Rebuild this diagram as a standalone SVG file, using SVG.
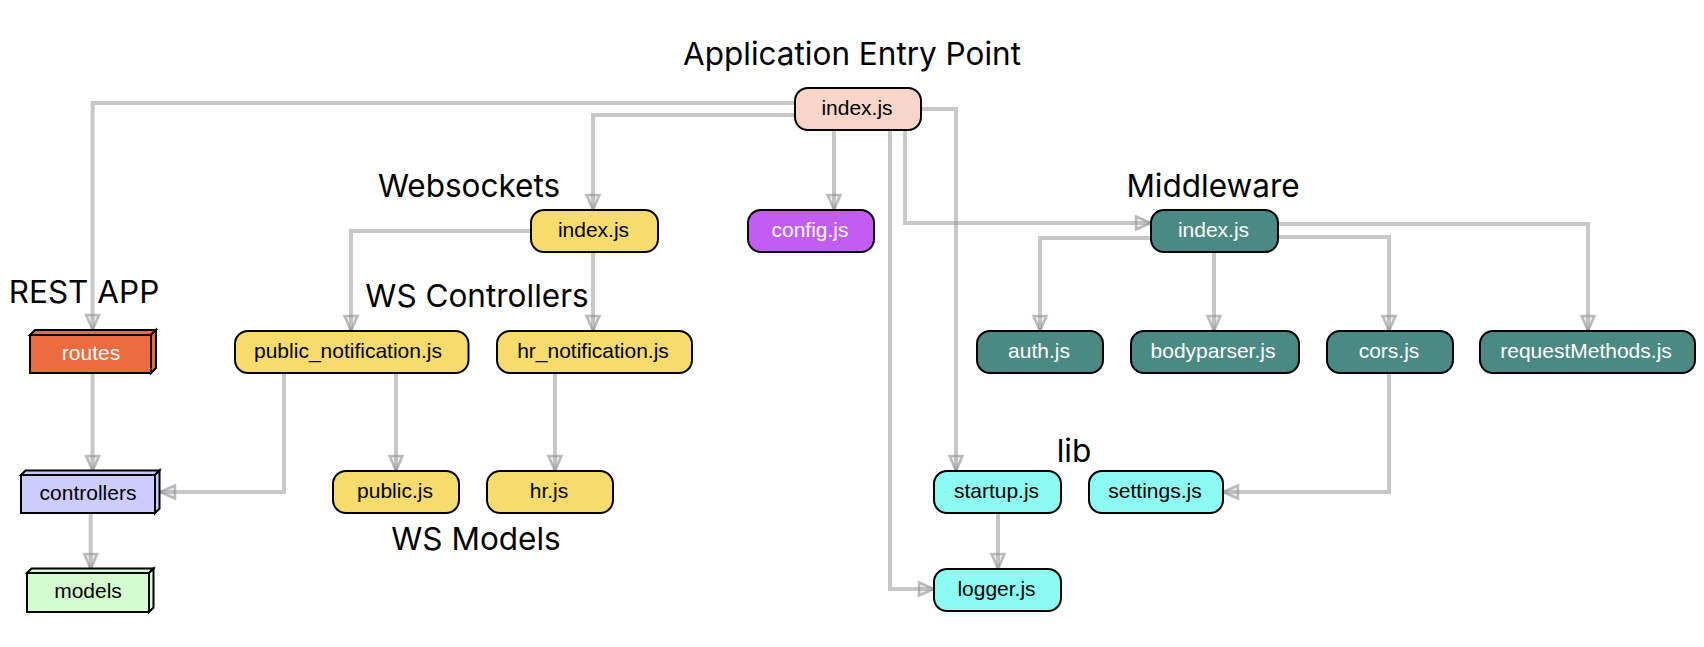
<svg xmlns="http://www.w3.org/2000/svg" width="1704" height="647" viewBox="0 0 1704 647">
<style>
.lbl{font-family:Inter,"Liberation Sans",sans-serif;font-size:31.5px;fill:#000;text-anchor:middle}
.nt{font-family:"Liberation Sans",Arial,sans-serif;font-size:21px;text-anchor:middle;fill:#000}
.wt{fill:#fff}
.n{stroke:#000;stroke-width:2}
.edge{fill:none;stroke:#919191;stroke-opacity:0.5;stroke-width:4;marker-end:url(#arr)}
.entry{fill:#F7D6C9}.ws{fill:#F6DC6C}.cfg{fill:#C25CF2}.mw{fill:#4B8A82}.lib{fill:#8CFCF3}
.routes{fill:#EE6B40}.ctrl{fill:#CCCCFF}.models{fill:#D4FCD0}
</style>
<defs>
<marker id="arr" markerUnits="userSpaceOnUse" markerWidth="20" markerHeight="20" viewBox="0 0 20 20" refX="18" refY="10" orient="auto">
<path d="M3,3.5 L18,10 L3,16.5 Z" fill="#919191" fill-opacity="0.15" stroke="#919191" stroke-opacity="0.6" stroke-width="2.5"/>
</marker>
</defs>
<rect width="1704" height="647" fill="#fff"/>
<g id="labels">
<text class="lbl" x="852" y="65">Application Entry Point</text>
<text class="lbl" x="469" y="197">Websockets</text>
<text class="lbl" x="1213" y="197">Middleware</text>
<text class="lbl" x="84" y="303">REST APP</text>
<text class="lbl" x="477" y="307">WS Controllers</text>
<text class="lbl" x="476" y="550">WS Models</text>
<text class="lbl" x="1074" y="462">lib</text>
</g>
<g id="connectors">
<path class="edge" d="M795,103 H92.6 V330"/>
<path class="edge" d="M795,115 H593 V210"/>
<path class="edge" d="M834,130 V210"/>
<path class="edge" d="M890,130 V589 H934"/>
<path class="edge" d="M905,130 V223 H1151"/>
<path class="edge" d="M921,109 H956 V471"/>
<path class="edge" d="M531,231 H351 V331"/>
<path class="edge" d="M593,252 V331"/>
<path class="edge" d="M284,373 V492 H160"/>
<path class="edge" d="M396,373 V471"/>
<path class="edge" d="M555,373 V471"/>
<path class="edge" d="M92.6,373 V471"/>
<path class="edge" d="M90.7,513 V569"/>
<path class="edge" d="M1151,238 H1040 V331"/>
<path class="edge" d="M1214,252 V331"/>
<path class="edge" d="M1278,237 H1389 V331"/>
<path class="edge" d="M1278,224 H1588 V331"/>
<path class="edge" d="M1389,373 V492 H1223"/>
<path class="edge" d="M998,513 V569"/>
</g>
<g id="n-main"><rect class="n entry" x="795" y="88" width="126" height="42" rx="13"/><text class="nt" x="857" y="115">index.js</text></g>
<g id="n-ws-index"><rect class="n ws" x="531" y="210" width="127" height="42" rx="13"/><text class="nt" x="593.5" y="237">index.js</text></g>
<g id="n-config"><rect class="n cfg" x="748" y="210" width="126" height="42" rx="13"/><text class="nt wt" x="810" y="237">config.js</text></g>
<g id="n-mw-index"><rect class="n mw" x="1151" y="210" width="127" height="42" rx="13"/><text class="nt wt" x="1213.5" y="237">index.js</text></g>
<g id="n-public-notification"><rect class="n ws" x="235" y="331" width="233.5" height="42" rx="13"/><text class="nt" x="348" y="358">public_notification.js</text></g>
<g id="n-hr-notification"><rect class="n ws" x="497" y="331" width="195" height="42" rx="13"/><text class="nt" x="593" y="358">hr_notification.js</text></g>
<g id="n-auth"><rect class="n mw" x="977" y="331" width="126" height="42" rx="13"/><text class="nt wt" x="1039" y="358">auth.js</text></g>
<g id="n-bodyparser"><rect class="n mw" x="1131" y="331" width="168" height="42" rx="13"/><text class="nt wt" x="1213" y="358">bodyparser.js</text></g>
<g id="n-cors"><rect class="n mw" x="1327" y="331" width="126" height="42" rx="13"/><text class="nt wt" x="1389" y="358">cors.js</text></g>
<g id="n-requestMethods"><rect class="n mw" x="1480" y="331" width="215" height="42" rx="13"/><text class="nt wt" x="1586" y="358">requestMethods.js</text></g>
<g id="n-public"><rect class="n ws" x="333" y="471" width="126" height="42" rx="13"/><text class="nt" x="395" y="498">public.js</text></g>
<g id="n-hr"><rect class="n ws" x="487" y="471" width="126" height="42" rx="13"/><text class="nt" x="549" y="498">hr.js</text></g>
<g id="n-startup"><rect class="n lib" x="934" y="471" width="127" height="42" rx="13"/><text class="nt" x="996.5" y="498">startup.js</text></g>
<g id="n-settings"><rect class="n lib" x="1089" y="471" width="134" height="42" rx="13"/><text class="nt" x="1155" y="498">settings.js</text></g>
<g id="n-logger"><rect class="n lib" x="934" y="569" width="127" height="42" rx="13"/><text class="nt" x="996.5" y="596">logger.js</text></g>
<g id="n-routes">
<path class="n routes" d="M30,335 L35,330 H156 L151,335 Z"/>
<path class="n routes" d="M151,335 L156,330 V368 L151,373 Z"/>
<rect class="n routes" x="30" y="335" width="121" height="38"/>
<text class="nt wt" x="91" y="360">routes</text>
</g>
<g id="n-controllers">
<path class="n ctrl" d="M21,475 L25.5,470.5 H159.5 L155,475 Z"/>
<path class="n ctrl" d="M155,475 L159.5,470.5 V508.5 L155,513 Z"/>
<rect class="n ctrl" x="21" y="475" width="134" height="38"/>
<text class="nt" x="88" y="500">controllers</text>
</g>
<g id="n-models">
<path class="n models" d="M27,573 L31.5,568.5 H153.5 L149,573 Z"/>
<path class="n models" d="M149,573 L153.5,568.5 V607.5 L149,612 Z"/>
<rect class="n models" x="27" y="573" width="122" height="39"/>
<text class="nt" x="88" y="598">models</text>
</g>
</svg>
